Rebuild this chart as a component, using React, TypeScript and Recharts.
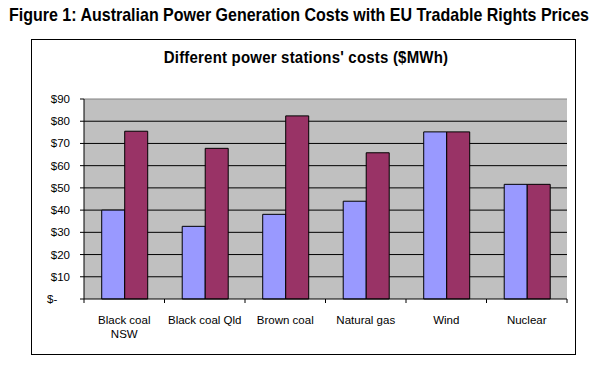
import { BarChart, Bar, XAxis, YAxis, CartesianGrid, ReferenceLine } from 'recharts';

const categories = ['Black coal\nNSW', 'Black coal Qld', 'Brown coal', 'Natural gas', 'Wind', 'Nuclear'];
const baseCost = [40, 32.7, 38.1, 44, 75.2, 51.6];
const withEuRights = [75.5, 67.8, 82.4, 65.8, 75.2, 51.6];
const yTicks = [0, 10, 20, 30, 40, 50, 60, 70, 80, 90];
const gridValues = [10, 20, 30, 40, 50, 60, 70, 80];

const data = categories.map((name, i) => ({ name, base: baseCost[i], eu: withEuRights[i] }));

const FONT = "'Liberation Sans', Arial, sans-serif";

function XTick(props: any) {
  const { x, y, payload, index } = props;
  const half = payload.offset || 0;
  const lines = String(payload.value).split('\n');
  const top = y - 8;
  return (
    <g>
      <line x1={x - half} x2={x - half} y1={top} y2={top + 4} stroke="#000" />
      {index === categories.length - 1 && (
        <line x1={x + half} x2={x + half} y1={top} y2={top + 4} stroke="#000" />
      )}
      {lines.map((l, i) => (
        <text key={i} x={x} y={top + 25 + i * 14} textAnchor="middle" fontSize={11.5} fontFamily={FONT} fill="#000">
          {l}
        </text>
      ))}
    </g>
  );
}

function YTick(props: any) {
  const { x, y, payload } = props;
  const v = payload.value;
  return (
    <text x={v === 0 ? x - 23 : x} y={y + 4} textAnchor={v === 0 ? 'start' : 'end'} fontSize={11.5} fontFamily={FONT} fill="#000">
      {v === 0 ? '$-' : `$${v}`}
    </text>
  );
}

export default function App() {
  return (
    <div style={{ position: 'absolute', left: 0, top: 0, width: 598, height: 365, background: '#fff', fontFamily: FONT }}>
      <div style={{ position: 'absolute', left: 0, top: 6, width: 598, textAlign: 'center', fontSize: 16, fontWeight: 'bold', transform: 'scaleY(1.2)' }}>
        Figure 1: Australian Power Generation Costs with EU Tradable Rights Prices
      </div>
      <div style={{ position: 'absolute', left: 31, top: 39, width: 543, height: 314, border: '1px solid #000' }} />
      <div style={{ position: 'absolute', left: 7, top: 48, width: 598, textAlign: 'center', fontSize: 15, fontWeight: 'bold', letterSpacing: 0.2, transform: 'scaleY(1.15)' }}>
        Different power stations' costs ($MWh)
      </div>
      <div style={{ position: 'absolute', left: 0, top: 0 }}>
        <BarChart width={598} height={365} data={data} margin={{ top: 99, right: 31, bottom: 36, left: 34 }}
          barCategoryGap="22%" barGap={0}>
          <CartesianGrid fill="#C0C0C0" stroke="#000" vertical={false} horizontalValues={gridValues} />
          <XAxis dataKey="name" interval={0} height={30} tickLine={false} axisLine={{ stroke: '#000' }} tick={<XTick />} />
          <YAxis domain={[0, 90]} ticks={yTicks} interval={0} width={50} tickSize={4} tickMargin={10}
            axisLine={{ stroke: '#000' }} tickLine={{ stroke: '#000' }} tick={<YTick />} />
          <YAxis yAxisId="r" orientation="right" width={0} tick={false} tickLine={false} axisLine={{ stroke: '#808080' }} />
          <ReferenceLine y={90} stroke="#808080" />
          <Bar dataKey="base" fill="#9999FF" stroke="#000" strokeWidth={1} isAnimationActive={false} />
          <Bar dataKey="eu" fill="#993366" stroke="#000" strokeWidth={1} isAnimationActive={false} />
        </BarChart>
      </div>
    </div>
  );
}
